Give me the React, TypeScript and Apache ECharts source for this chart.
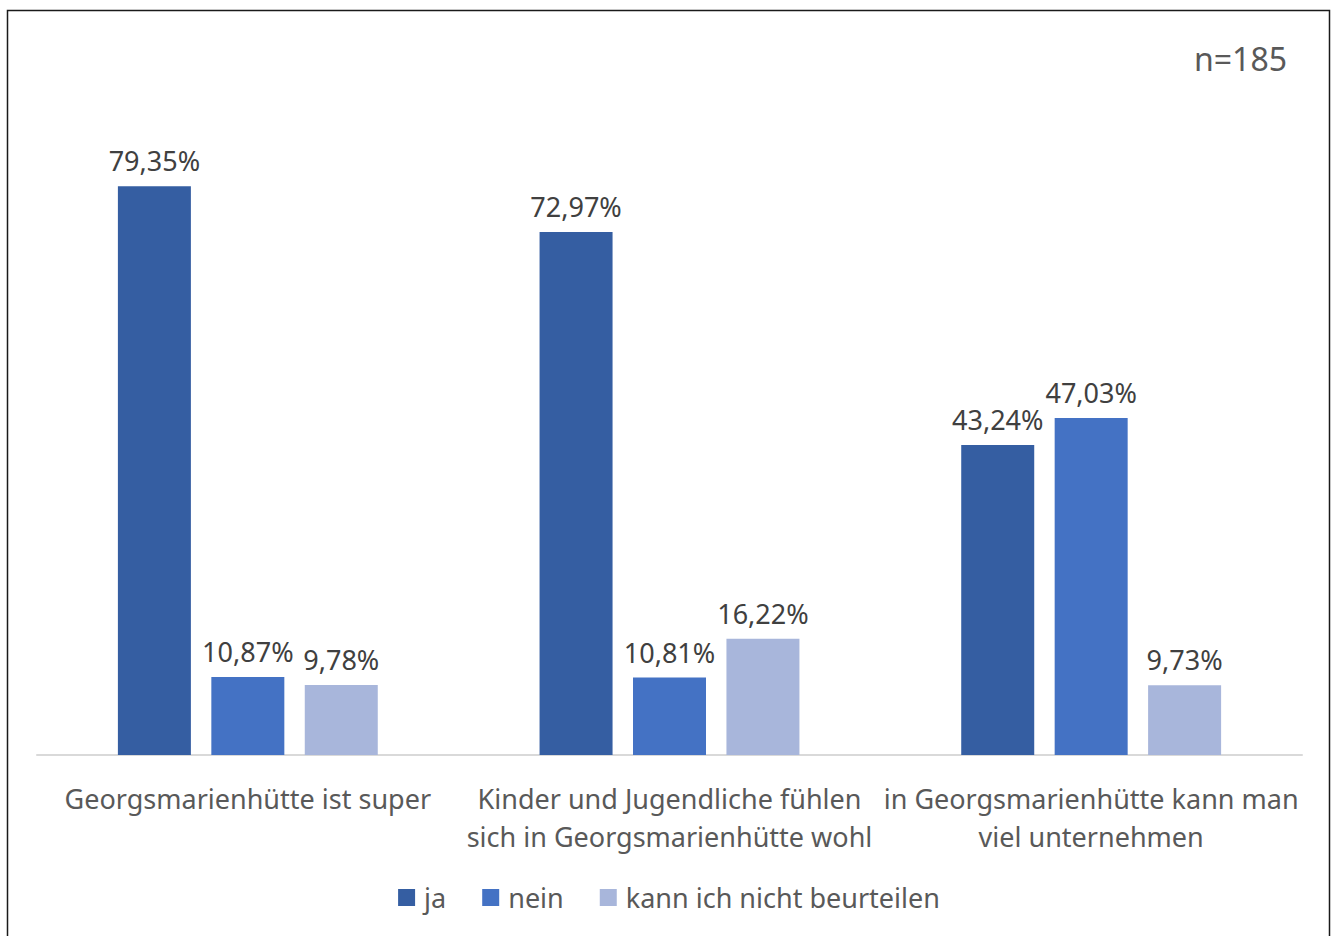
import React, { useEffect, useRef } from "react";
import * as echarts from "echarts";

const categories = [
  "Georgsmarienhütte ist super",
  "Kinder und Jugendliche fühlen\nsich in Georgsmarienhütte wohl",
  "in Georgsmarienhütte kann man\nviel unternehmen",
];
const seriesNames = ["ja", "nein", "kann ich nicht beurteilen"];
const jaValues = [79.35, 72.97, 43.24];
const neinValues = [10.87, 10.81, 47.03];
const kannValues = [9.78, 16.22, 9.73];
const colors = ["#355EA2", "#4472C4", "#A8B6DB"];
const sampleNote = "n=185";

const FONT = "'Noto Sans', 'Open Sans', sans-serif";

export default function App() {
  const ref = useRef<HTMLDivElement>(null);
  useEffect(() => {
    if (!ref.current) return;
    const chart = echarts.init(ref.current, null, { renderer: "svg" });
    const fmt = (p: any) => p.value.toFixed(2).replace(".", ",") + "%";
    const mk = (name: string, data: number[], color: string) => ({
      name,
      type: "bar",
      data,
      barWidth: 73,
      barGap: "28%",
      itemStyle: { color },
      label: {
        show: true,
        position: "top",
        distance: 12,
        formatter: fmt,
        color: "#404040",
        fontSize: 27,
        fontFamily: FONT,
      },
    });
    chart.setOption({
      animation: false,
      backgroundColor: "#ffffff",
      textStyle: { fontFamily: FONT },
      grid: { left: 37, right: 36, top: 110, bottom: 181 },
      xAxis: {
        type: "category",
        data: categories,
        axisLine: { show: true, lineStyle: { color: "#D9D9D9", width: 2 } },
        axisTick: { show: false },
        axisLabel: {
          color: "#595959",
          fontSize: 27,
          fontFamily: FONT,
          margin: 24,
          lineHeight: 38,
          interval: 0,
        },
      },
      yAxis: {
        type: "value",
        min: 0,
        max: 90,
        show: false,
        splitLine: { show: false },
      },
      legend: {
        data: seriesNames,
        bottom: 20,
        left: "center",
        itemWidth: 17,
        itemHeight: 17,
        itemGap: 36,
        icon: "rect",
        textStyle: { color: "#595959", fontSize: 27, fontFamily: FONT, padding: [0, 0, 0, 4] },
      },
      graphic: [
        {
          type: "rect",
          shape: { x: 7.5, y: 10.5, width: 1322, height: 940 },
          style: { fill: "none", stroke: "#1a1a1a", lineWidth: 1.5 },
          silent: true,
        },
        {
          type: "text",
          right: 51,
          top: 42,
          style: { text: sampleNote, fill: "#595959", fontSize: 32, fontFamily: FONT },
        },
      ],
      series: [
        mk(seriesNames[0], jaValues, colors[0]),
        mk(seriesNames[1], neinValues, colors[1]),
        mk(seriesNames[2], kannValues, colors[2]),
      ],
    });
    return () => chart.dispose();
  }, []);
  return (
    <div
      ref={ref}
      style={{ position: "absolute", left: 0, top: 0, width: 1338, height: 936 }}
    />
  );
}
